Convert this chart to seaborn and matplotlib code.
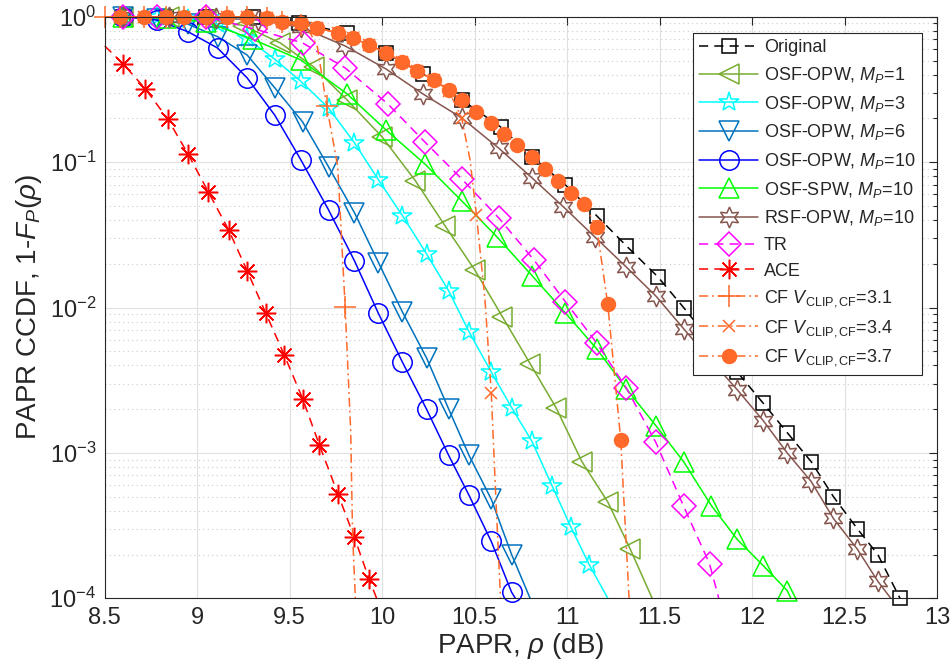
import numpy as np
import seaborn as sns
import matplotlib
matplotlib.use("Agg")
import matplotlib.pyplot as plt
from matplotlib.ticker import LogLocator, FormatStrFormatter, NullFormatter

# values: PAPR in dB, CCDF value
papr_orig = [8.60, 8.83, 9.05, 9.30, 9.55, 9.81, 10.02, 10.22, 10.43, 10.64, 10.81, 10.99, 11.16,
             11.32, 11.49, 11.63, 11.77, 11.92, 12.06, 12.19, 12.32, 12.44, 12.57, 12.68, 12.80]
ccdf_orig = [1.0, 1.0, 1.0, 1.0, 0.906, 0.774, 0.564, 0.405, 0.268, 0.175, 0.109, 0.0699, 0.0428,
             0.0266, 0.0163, 0.0100, 0.0060, 0.0036, 0.0022, 0.00138, 0.00087, 0.00050, 0.00030,
             0.00020, 0.00010]

papr_mp1 = [8.60, 8.85, 9.05, 9.25, 9.45, 9.63, 9.81, 10.00, 10.18, 10.34, 10.50, 10.65, 10.80,
            10.94, 11.08, 11.22, 11.34, 11.46]
ccdf_mp1 = [1.0, 1.0, 0.97, 0.87, 0.66, 0.452, 0.268, 0.149, 0.0744, 0.0365, 0.0182, 0.00865,
            0.00411, 0.00205, 0.00087, 0.00046, 0.00022, 0.0001]

papr_mp3 = [8.60, 8.78, 8.95, 9.11, 9.27, 9.42, 9.56, 9.71, 9.85, 9.98, 10.11, 10.24, 10.36, 10.47,
            10.59, 10.70, 10.81, 10.92, 11.02, 11.12, 11.22]
ccdf_mp3 = [1.0, 1.0, 0.97, 0.89, 0.71, 0.51, 0.36, 0.236, 0.136, 0.0755, 0.0428, 0.0234, 0.0130,
            0.0068, 0.0036, 0.00205, 0.0012, 0.00059, 0.00031, 0.00017, 0.0001]

papr_mp6 = [8.60, 8.78, 8.95, 9.11, 9.27, 9.42, 9.57, 9.71, 9.85, 9.98, 10.11, 10.24, 10.36, 10.47,
            10.59, 10.70, 10.80]
ccdf_mp6 = [1.0, 0.966, 0.89, 0.73, 0.546, 0.324, 0.189, 0.093, 0.045, 0.0204, 0.0093, 0.0045,
            0.0020, 0.00096, 0.00048, 0.0002, 0.0001]

papr_mp10 = [8.60, 8.78, 8.95, 9.11, 9.27, 9.42, 9.56, 9.71, 9.85, 9.98, 10.11, 10.24, 10.36, 10.47,
             10.59, 10.70, 10.72]
ccdf_mp10 = [1.0, 0.95, 0.79, 0.61, 0.38, 0.21, 0.104, 0.047, 0.021, 0.0091, 0.0042, 0.0020,
             0.00096, 0.00051, 0.000246, 0.00011, 0.0001]

papr_spw = [8.60, 8.83, 9.05, 9.30, 9.56, 9.81, 10.02, 10.23, 10.43, 10.62, 10.81, 10.99, 11.16,
            11.32, 11.48, 11.63, 11.78, 11.92, 12.06, 12.19, 12.21]
ccdf_spw = [1.0, 0.98, 0.92, 0.70, 0.505, 0.295, 0.167, 0.0974, 0.0542, 0.0307, 0.0166, 0.0092,
            0.0052, 0.00277, 0.00154, 0.00087, 0.000434, 0.000254, 0.000168, 0.000113, 0.0001]

papr_rsf = [8.60, 8.85, 9.10, 9.33, 9.56, 9.80, 10.02, 10.22, 10.43, 10.63, 10.81, 10.98, 11.15,
            11.32, 11.48, 11.63, 11.77, 11.92, 12.06, 12.19, 12.32, 12.44, 12.57, 12.68, 12.75]
ccdf_rsf = [1.0, 1.0, 0.98, 0.95, 0.85, 0.63, 0.438, 0.295, 0.2015, 0.125, 0.078, 0.0493, 0.0306,
            0.019, 0.012, 0.00715, 0.00445, 0.00272, 0.00167, 0.0010, 0.000635, 0.000354,
            0.000217, 0.000131, 0.0001]

papr_tr = [8.60, 8.78, 9.05, 9.31, 9.57, 9.80, 10.03, 10.23, 10.43, 10.63, 10.82, 10.99, 11.16,
           11.32, 11.48, 11.63, 11.77, 11.82]
ccdf_tr = [1.0, 1.0, 1.0, 0.825, 0.661, 0.445, 0.252, 0.138, 0.0768, 0.0414, 0.0213, 0.011,
           0.0057, 0.0028, 0.00118, 0.00043, 0.000173, 0.0001]

papr_ace = [8.50, 8.60, 8.72, 8.84, 8.95, 9.06, 9.17, 9.27, 9.37, 9.47, 9.57, 9.66, 9.76, 9.85,
            9.93, 9.97]
ccdf_ace = [0.63, 0.474, 0.319, 0.199, 0.114, 0.0625, 0.0342, 0.0179, 0.0092, 0.00474, 0.00236,
            0.00114, 0.000525, 0.000262, 0.000135, 0.0001]

papr_cf31 = [8.50, 8.58, 8.71, 8.83, 8.93, 9.05, 9.16, 9.27, 9.38, 9.46, 9.56, 9.61, 9.65, 9.70,
             9.76, 9.80, 9.83, 9.84, 9.855]
ccdf_cf31 = [1.0, 1.0, 1.0, 1.0, 1.0, 1.0, 1.0, 1.0, 0.98, 0.92, 0.88, 0.78, 0.62, 0.244, 0.093,
             0.0101, 0.0014, 0.00028, 0.0001]

papr_cf34 = [8.58, 8.71, 8.83, 8.93, 9.05, 9.16, 9.27, 9.38, 9.46, 9.56, 9.65, 9.76, 9.84, 9.93,
             10.02, 10.11, 10.19, 10.28, 10.36, 10.43, 10.475, 10.51, 10.556, 10.59, 10.615, 10.64]
ccdf_cf34 = [1.0, 1.0, 1.0, 1.0, 1.0, 1.0, 1.0, 0.98, 0.92, 0.906, 0.838, 0.774, 0.715, 0.64,
             0.564, 0.489, 0.424, 0.368, 0.31, 0.2015, 0.104, 0.0432, 0.0113, 0.00259, 0.00048,
             0.0001]

papr_cf37 = [8.58, 8.71, 8.83, 8.93, 9.05, 9.16, 9.27, 9.38, 9.46, 9.56, 9.65, 9.76, 9.84, 9.93,
             10.02, 10.11, 10.19, 10.28, 10.36, 10.43, 10.51, 10.59, 10.66, 10.73, 10.81, 10.88,
             10.95, 11.02, 11.09, 11.16, 11.22, 11.29, 11.335]
ccdf_cf37 = [1.0, 1.0, 1.0, 1.0, 1.0, 1.0, 1.0, 0.98, 0.92, 0.906, 0.838, 0.774, 0.715, 0.64,
             0.564, 0.489, 0.424, 0.368, 0.314, 0.268, 0.222, 0.186, 0.157, 0.132, 0.109, 0.090,
             0.0744, 0.0615, 0.0517, 0.0359, 0.0105, 0.00123, 0.0001]

sns.set_theme(style="white")
plt.rcParams['font.family'] = ['Liberation Sans', 'DejaVu Sans']
plt.rcParams['mathtext.fontset'] = 'custom'
plt.rcParams['mathtext.rm'] = 'Liberation Sans'
plt.rcParams['mathtext.it'] = 'Liberation Sans:italic'
plt.rcParams['mathtext.bf'] = 'Liberation Sans:bold'

fig = plt.figure(figsize=(9.53, 6.72), dpi=100)
ax = fig.add_axes([0.1099, 0.1097, 0.8733, 0.8653])

dash = (0, (6, 4))
dashdot = (0, (6, 2.5, 1.2, 2.5))
orange = '#FF6929'


def draw(x, y, color, marker, ls, label, ms, filled=False, mark=None):
    kw = dict(x=x, y=y, ax=ax, color=color, marker=marker, linestyle=ls, linewidth=1.1,
              markersize=ms, markeredgecolor=color, markeredgewidth=1.1,
              markerfacecolor=color if filled else 'none', label=label, clip_on=False,
              estimator=None, sort=False)
    if mark is not None:
        kw['markevery'] = mark
    sns.lineplot(**kw)


draw(papr_orig, ccdf_orig, 'black', 's', dash, 'Original', 10.5)
draw(papr_mp1, ccdf_mp1, '#77AC30', '<', '-', 'OSF-OPW, $M_P$=1', 14, mark=list(range(17)))
draw(papr_mp3, ccdf_mp3, '#00FFFF', '*', '-', 'OSF-OPW, $M_P$=3', 15, mark=list(range(20)))
draw(papr_mp6, ccdf_mp6, '#0072BD', 'v', '-', 'OSF-OPW, $M_P$=6', 14, mark=list(range(16)))
draw(papr_mp10, ccdf_mp10, '#0000FF', 'o', '-', 'OSF-OPW, $M_P$=10', 14, mark=list(range(16)))
draw(papr_spw, ccdf_spw, '#00FF00', '^', '-', 'OSF-SPW, $M_P$=10', 15, mark=list(range(20)))
draw(papr_rsf, ccdf_rsf, '#86564E', (6, 1, 0), '-', 'RSF-OPW, $M_P$=10', 15, mark=list(range(24)))
draw(papr_tr, ccdf_tr, '#FF00FF', 'D', dash, 'TR', 12, mark=list(range(17)))
draw(papr_ace, ccdf_ace, '#FF0000', (8, 2, 0), dash, 'ACE', 14, mark=list(range(1, 15)))
draw(papr_cf31, ccdf_cf31, orange, '+', dashdot, 'CF $V_{\\mathrm{CLIP,CF}}$=3.1', 16,
     mark=list(range(11)) + [13, 15])
draw(papr_cf34, ccdf_cf34, orange, 'x', dashdot, 'CF $V_{\\mathrm{CLIP,CF}}$=3.4', 9,
     mark=list(range(20)) + [21, 23])
draw(papr_cf37, ccdf_cf37, orange, 'o', dashdot, 'CF $V_{\\mathrm{CLIP,CF}}$=3.7', 10,
     filled=True, mark=list(range(32)))

ax.set_yscale('log')
ax.set_ylim(1e-4, 1)
ax.set_xlim(8.5, 13)
ax.set_xticks(np.arange(8.5, 13.01, 0.5))
ax.xaxis.set_major_formatter(FormatStrFormatter('%g'))
ax.yaxis.set_major_locator(LogLocator(base=10, numticks=10))
ax.yaxis.set_minor_locator(LogLocator(base=10, subs=np.arange(2, 10), numticks=10))
ax.yaxis.set_minor_formatter(NullFormatter())

ax.set_axisbelow(True)
ax.grid(True, which='major', color='#e0e0e0', linewidth=0.8, linestyle='-')
ax.grid(True, which='minor', axis='y', color='#cccccc', linewidth=0.8, linestyle=(0, (1, 3)))

for s in ax.spines.values():
    s.set_color('#262626')
    s.set_linewidth(0.8)
ax.tick_params(which='both', direction='in', top=True, right=True, colors='#262626',
               labelsize=17, width=0.8)
ax.tick_params(which='major', length=5.5, pad=6)
ax.tick_params(which='minor', length=3)

ax.set_xlabel('PAPR, $\\rho$ (dB)', fontsize=20, color='#262626', labelpad=2)
ax.set_ylabel('PAPR CCDF, 1-$F_P$($\\rho$)', fontsize=20, color='#262626', labelpad=4)

leg = ax.legend(loc='upper right', bbox_to_anchor=(922 / 953, 1 - 33 / 672),
                bbox_transform=fig.transFigure, borderaxespad=0, fontsize=13,
                fancybox=False, framealpha=1, edgecolor='#262626', handlelength=3.3,
                handletextpad=0.3, labelspacing=0.48, borderpad=0.35)
leg.get_frame().set_linewidth(0.8)

fig.savefig('out.png', dpi=100)
